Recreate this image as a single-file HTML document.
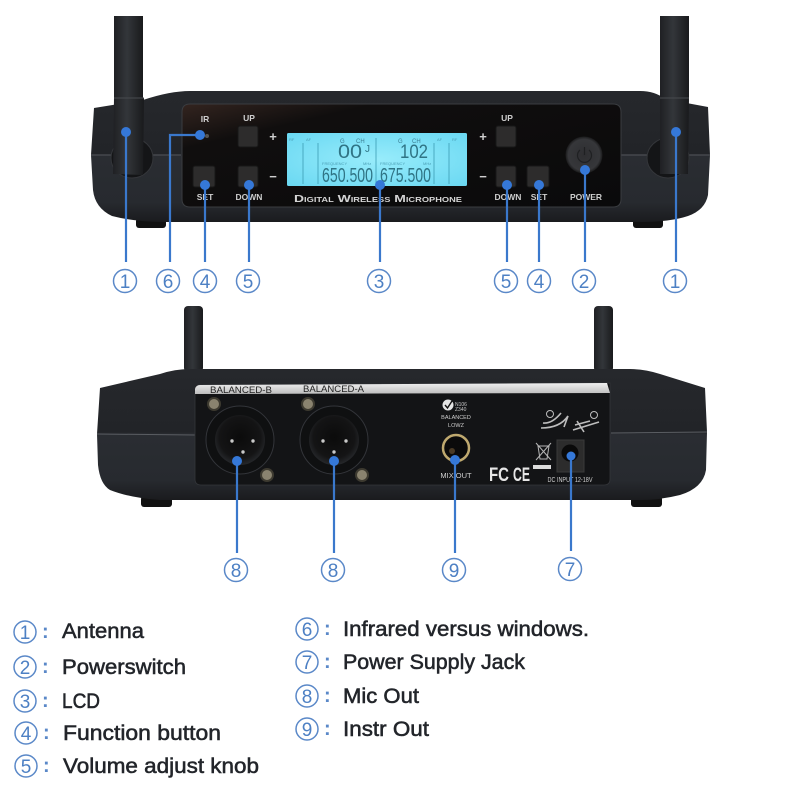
<!DOCTYPE html>
<html><head><meta charset="utf-8"><style>
html,body{margin:0;padding:0;background:#fff;width:800px;height:800px;overflow:hidden}
svg{display:block;filter:blur(.35px)}
text{font-family:"Liberation Sans",sans-serif}
.l{fill:#cfcfcf;font-size:8.500px;font-weight:bold;text-anchor:middle}
.c circle{fill:none;stroke:#5a88c8;stroke-width:1.500}
.c text{fill:#4d80c4;font-size:19px;text-anchor:middle}
.ln{stroke:#3a78cc;stroke-width:2.200;fill:none}
.d{fill:#3578d8}
.t{fill:#22252a;font-size:21.500px;stroke:#22252a;stroke-width:.55}
.col{fill:#5a88c8;font-size:20px;font-weight:bold}
.b{fill:#2d2c2c;stroke:#171717;stroke-width:1}
.seg{fill:#2f7485;font-size:20px}
.segt{fill:#2f7485;font-size:19px}
.sm{fill:#4b9fb5;font-size:4px}
.w{fill:#cfcfcf;font-size:7.500px;text-anchor:middle}
</style></head><body>
<svg width="800" height="800" viewBox="0 0 800 800" xmlns="http://www.w3.org/2000/svg">
<defs>
<linearGradient id="body" x1="0" y1="0" x2="0" y2="1"><stop offset="0" stop-color="#26282c"/><stop offset=".48" stop-color="#222428"/><stop offset=".5" stop-color="#2a2d32"/><stop offset=".85" stop-color="#272a2f"/><stop offset="1" stop-color="#1a1b1e"/></linearGradient>
<linearGradient id="panel" x1="0" y1="0" x2="1" y2="1"><stop offset="0" stop-color="#33241f"/><stop offset=".22" stop-color="#100e0e"/><stop offset="1" stop-color="#0a0a0b"/></linearGradient>
<linearGradient id="ant" x1="0" y1="0" x2="1" y2="0"><stop offset="0" stop-color="#1f2023"/><stop offset=".45" stop-color="#33363a"/><stop offset="1" stop-color="#191a1c"/></linearGradient>
<linearGradient id="strip" x1="0" y1="0" x2="0" y2="1"><stop offset="0" stop-color="#f0f0f0"/><stop offset="1" stop-color="#bdbdbd"/></linearGradient>
<radialGradient id="lcd" cx=".5" cy=".5" r=".7"><stop offset="0" stop-color="#98ecfb"/><stop offset="1" stop-color="#6ad8f2"/></radialGradient>
<radialGradient id="xlr" cx=".5" cy=".45" r=".55"><stop offset="0" stop-color="#0b0b0b"/><stop offset=".75" stop-color="#141415"/><stop offset="1" stop-color="#26282b"/></radialGradient>
<radialGradient id="pw" cx=".5" cy=".5" r=".5"><stop offset="0" stop-color="#2e2e31"/><stop offset=".85" stop-color="#36373a"/><stop offset="1" stop-color="#1a1a1b"/></radialGradient>
</defs>

<!-- TOP DEVICE -->
<rect x="136" y="218" width="30" height="10" rx="3" fill="#111"/>
<rect x="633" y="218" width="30" height="10" rx="3" fill="#111"/>
<path d="M94 108 L143 100 Q170 91 190 91 L640 91 Q655 91 665 99 L708 107 L710 155 L708 195 Q705 210 688 216 Q670 222 640 222 L165 222 Q135 222 112 216 Q95 208 93 190 L91 155 Z" fill="url(#body)"/>
<path d="M91 155 L181 155 M621 155 L710 155" stroke="#54575c" stroke-width="1"/>
<path d="M190 104 L613 104 Q621 104 621 112 L621 199 Q621 207 613 207 L190 207 Q182 207 182 199 L182 112 Q182 104 190 104Z" fill="url(#panel)" stroke="#3a3c40" stroke-width="1"/>
<ellipse cx="132" cy="158" rx="21" ry="20" fill="#141517" stroke="#34363a" stroke-width="1"/>
<ellipse cx="668" cy="158" rx="21" ry="20" fill="#141517" stroke="#34363a" stroke-width="1"/>
<path d="M114 16 H143 V98 H114 Z" fill="url(#ant)"/>
<path d="M660 16 H689 V98 H660 Z" fill="url(#ant)"/>
<path d="M114 98 H144 L143 175 L113 174 Z" fill="url(#ant)"/>
<path d="M660 98 H689 L688 174 L660 174 Z" fill="url(#ant)"/>
<path d="M114 98 H144 M660 98 H689" stroke="#484b4f" stroke-width="1"/>

<rect x="238" y="126" width="20" height="21" rx="2" class="b"/>
<rect x="193" y="166" width="22" height="21" rx="2" class="b"/>
<rect x="238" y="166" width="20" height="21" rx="2" class="b"/>
<rect x="496" y="126" width="20" height="21" rx="2" class="b"/>
<rect x="496" y="166" width="20" height="21" rx="2" class="b"/>
<rect x="527" y="166" width="22" height="21" rx="2" class="b"/>
<circle cx="207" cy="136" r="2" fill="#555"/>
<circle cx="584" cy="155" r="18.500" fill="url(#pw)"/>
<path d="M580 150 A7 7 0 1 0 589 150 M584.500 147 V155" fill="none" stroke="#1f2022" stroke-width="1.200"/>

<text class="l" x="205" y="122">IR</text>
<text class="l" x="249" y="121">UP</text>
<text class="l" x="205" y="200">SET</text>
<text class="l" x="249" y="200">DOWN</text>
<text class="l" x="507" y="121">UP</text>
<text class="l" x="508" y="200">DOWN</text>
<text class="l" x="539" y="200">SET</text>
<text class="l" x="586" y="200">POWER</text>
<text class="l" x="273" y="141" style="font-size:13px">+</text>
<text class="l" x="273" y="181" style="font-size:13px">−</text>
<text class="l" x="483" y="141" style="font-size:13px">+</text>
<text class="l" x="483" y="181" style="font-size:13px">−</text>

<rect x="287" y="133" width="180" height="53" rx="1.500" fill="url(#lcd)"/>
<path d="M303 143 V184 M318 143 V184 M376 138 V184 M434 143 V184 M449 143 V184" stroke="#3d9db5" stroke-width=".8"/>
<text class="sm" x="289" y="141">RF</text><text class="sm" x="306" y="141">AF</text>
<text class="sm" x="437" y="141">AF</text><text class="sm" x="452" y="141">RF</text>
<text x="340" y="143" style="font-size:6px;fill:#3b7f93">G</text><text x="356" y="143" style="font-size:6px;fill:#3b7f93">CH</text>
<text x="398" y="143" style="font-size:6px;fill:#3b7f93">G</text><text x="412" y="143" style="font-size:6px;fill:#3b7f93">CH</text>
<text class="segt" x="338" y="158" textLength="24" lengthAdjust="spacingAndGlyphs">00</text>
<text class="segt" x="365" y="152" style="font-size:10px">J</text>
<text class="segt" x="400" y="158" textLength="28" lengthAdjust="spacingAndGlyphs">102</text>
<text class="sm" x="322" y="165">FREQUENCY</text><text class="sm" x="363" y="165">MHz</text>
<text class="sm" x="380" y="165">FREQUENCY</text><text class="sm" x="423" y="165">MHz</text>
<text class="seg" x="322" y="182" textLength="51" lengthAdjust="spacingAndGlyphs">650.500</text>
<text class="seg" x="380" y="182" textLength="51" lengthAdjust="spacingAndGlyphs">675.500</text>
<text x="294" y="202" textLength="168" lengthAdjust="spacingAndGlyphs" style="font-size:10.500px;font-variant:small-caps;fill:#d4d4d4;font-weight:bold">Digital Wireless Microphone</text>

<!-- BOTTOM DEVICE -->
<rect x="184" y="306" width="19" height="66" rx="4" fill="url(#ant)"/>
<rect x="594" y="306" width="19" height="66" rx="4" fill="url(#ant)"/>
<rect x="141" y="496" width="31" height="11" rx="3" fill="#111"/>
<rect x="631" y="496" width="31" height="11" rx="3" fill="#111"/>
<path d="M100 388 L160 374 Q175 369 190 369 L630 369 Q645 369 660 374 L705 388 L707 432 L706 470 Q703 488 680 495 Q660 500 640 500 L160 500 Q130 498 110 490 Q100 484 98 465 L97 434 Z" fill="url(#body)"/>
<path d="M97 434 L195 435 M611 433 L707 432" stroke="#5a5d62" stroke-width="1"/>
<path d="M195 393 L195 479 Q195 485 201 485 L604 485 Q610 485 610 479 L610 383 L199 385 Z" fill="#131416" stroke="#34363a" stroke-width=".8"/>
<path d="M195 394 V389 Q196 385 200 385 L607 383 L610 393 L195 394Z" fill="url(#strip)"/>
<text x="210" y="393" textLength="62" lengthAdjust="spacingAndGlyphs" style="font-size:9px;fill:#222">BALANCED-B</text>
<text x="303" y="392" textLength="61" lengthAdjust="spacingAndGlyphs" style="font-size:9px;fill:#222">BALANCED-A</text>

<circle cx="240" cy="440" r="34" fill="#0f1011" stroke="#33353a"/>
<circle cx="240" cy="440" r="25" fill="url(#xlr)"/>
<circle cx="334" cy="440" r="34" fill="#0f1011" stroke="#33353a"/>
<circle cx="334" cy="440" r="25" fill="url(#xlr)"/>
<g fill="#c9c9c9">
<circle cx="232" cy="441" r="1.700"/><circle cx="253" cy="441" r="1.700"/><circle cx="243" cy="452" r="1.700"/>
<circle cx="323" cy="441" r="1.700"/><circle cx="346" cy="441" r="1.700"/><circle cx="334" cy="452" r="1.700"/>
</g>
<g fill="#8a836f" stroke="#3d3a30" stroke-width="2">
<circle cx="214" cy="404" r="6"/><circle cx="267" cy="475" r="6"/><circle cx="308" cy="404" r="6"/><circle cx="362" cy="475" r="6"/>
</g>

<circle cx="448" cy="405" r="5.500" fill="#e4e4e4"/>
<path d="M445 405 L447.500 408 L452 401" stroke="#111" stroke-width="1.400" fill="none"/>
<text x="455" y="406" style="font-size:5px;fill:#c8c8c8">N106</text>
<text x="455" y="411" style="font-size:5px;fill:#c8c8c8">Z340</text>
<text class="w" x="456" y="419" style="font-size:5.500px">BALANCED</text>
<text class="w" x="456" y="427" style="font-size:5.500px">LOWZ</text>
<circle cx="456" cy="448" r="13" fill="#0b0b0b" stroke="#bfa96f" stroke-width="2.500"/>
<circle cx="452" cy="451" r="3" fill="#4a3a25"/>
<text class="w" x="456" y="478" style="font-size:7.500px">MIX OUT</text>
<text x="489" y="481" style="font-size:19px;font-weight:bold;fill:#e6e6e6" textLength="20" lengthAdjust="spacingAndGlyphs">FC</text>
<text x="513" y="481" style="font-size:19px;font-weight:bold;fill:#e6e6e6" textLength="17" lengthAdjust="spacingAndGlyphs">CE</text>
<path d="M536 443 L551 460 M551 443 L536 460 M538 446 H549 L547 459 H540 Z" stroke="#b5b5b5" stroke-width="1" fill="none"/>
<rect x="533" y="465" width="18" height="4" fill="#dcdcdc"/>
<rect x="557" y="440" width="27" height="32" fill="#2c2c2c" stroke="#3a3a3a"/>
<circle cx="570" cy="453" r="8.500" fill="#0a0a0a"/>
<text class="w" x="570" y="482" textLength="45" lengthAdjust="spacingAndGlyphs" style="font-size:7px">DC INPUT 12-18V</text>
<path d="M541 428 Q560 428 568 416 L564 427 M543 423 Q552 424 561 413" stroke="#bdbdbd" fill="none" stroke-width="1.600"/>
<path d="M573 430 L599 422 M575 425 L590 421 M577 421 L584 432" stroke="#bdbdbd" fill="none" stroke-width="1.600"/>
<circle cx="550" cy="414" r="3.500" fill="none" stroke="#bdbdbd"/>
<circle cx="594" cy="415" r="3.500" fill="none" stroke="#bdbdbd"/>

<!-- CONNECTORS -->
<g class="ln">
<path d="M126 132 V262"/><path d="M200 135 H170 V262"/><path d="M205 185 V262"/><path d="M249 185 V262"/><path d="M380 185 V262"/>
<path d="M507 185 V262"/><path d="M539 185 V262"/><path d="M585 170 V262"/><path d="M676 132 V262"/>
<path d="M237 461 V553"/><path d="M334 461 V553"/><path d="M455 460 V553"/><path d="M571 456 V551"/>
</g>
<g class="d">
<circle cx="126" cy="132" r="5"/><circle cx="200" cy="135" r="5"/><circle cx="205" cy="185" r="5"/><circle cx="249" cy="185" r="5"/><circle cx="380" cy="185" r="5"/>
<circle cx="507" cy="185" r="5"/><circle cx="539" cy="185" r="5"/><circle cx="585" cy="170" r="5"/><circle cx="676" cy="132" r="5"/>
<circle cx="237" cy="461" r="5"/><circle cx="334" cy="461" r="5"/><circle cx="455" cy="460" r="5"/><circle cx="571" cy="456" r="4.500"/>
</g>

<!-- CALLOUT CIRCLES -->
<g class="c">
<circle cx="125" cy="281" r="11.500"/><text x="125" y="288">1</text>
<circle cx="168" cy="281" r="11.500"/><text x="168" y="288">6</text>
<circle cx="205" cy="281" r="11.500"/><text x="205" y="288">4</text>
<circle cx="248" cy="281" r="11.500"/><text x="248" y="288">5</text>
<circle cx="379" cy="281" r="11.500"/><text x="379" y="288">3</text>
<circle cx="506" cy="281" r="11.500"/><text x="506" y="288">5</text>
<circle cx="539" cy="281" r="11.500"/><text x="539" y="288">4</text>
<circle cx="584" cy="281" r="11.500"/><text x="584" y="288">2</text>
<circle cx="675" cy="281" r="11.500"/><text x="675" y="288">1</text>
<circle cx="236" cy="570" r="11.500"/><text x="236" y="577">8</text>
<circle cx="333" cy="570" r="11.500"/><text x="333" y="577">8</text>
<circle cx="454" cy="570" r="11.500"/><text x="454" y="577">9</text>
<circle cx="570" cy="569" r="11.500"/><text x="570" y="576">7</text>

<circle cx="25" cy="632" r="11"/><text x="25" y="639">1</text>
<circle cx="25" cy="667" r="11"/><text x="25" y="674">2</text>
<circle cx="25" cy="701" r="11"/><text x="25" y="708">3</text>
<circle cx="26" cy="733" r="11"/><text x="26" y="740">4</text>
<circle cx="26" cy="766" r="11"/><text x="26" y="773">5</text>
<circle cx="307" cy="629" r="11"/><text x="307" y="636">6</text>
<circle cx="307" cy="662" r="11"/><text x="307" y="669">7</text>
<circle cx="307" cy="696" r="11"/><text x="307" y="703">8</text>
<circle cx="307" cy="729" r="11"/><text x="307" y="736">9</text>
</g>
<g class="col">
<text x="42" y="638">:</text><text x="42" y="673">:</text><text x="42" y="707">:</text><text x="43" y="739">:</text><text x="43" y="772">:</text>
<text x="324" y="635">:</text><text x="324" y="668">:</text><text x="324" y="702">:</text><text x="324" y="735">:</text>
</g>

<!-- LEGEND -->
<text class="t" x="62" y="638" textLength="82" lengthAdjust="spacingAndGlyphs">Antenna</text>
<text class="t" x="62" y="674" textLength="124" lengthAdjust="spacingAndGlyphs">Powerswitch</text>
<text class="t" x="62" y="708" textLength="38" lengthAdjust="spacingAndGlyphs">LCD</text>
<text class="t" x="63" y="740" textLength="158" lengthAdjust="spacingAndGlyphs">Function button</text>
<text class="t" x="63" y="773" textLength="196" lengthAdjust="spacingAndGlyphs">Volume adjust knob</text>
<text class="t" x="343" y="636" textLength="246" lengthAdjust="spacingAndGlyphs">Infrared versus windows.</text>
<text class="t" x="343" y="669" textLength="182" lengthAdjust="spacingAndGlyphs">Power Supply Jack</text>
<text class="t" x="343" y="703" textLength="76" lengthAdjust="spacingAndGlyphs">Mic Out</text>
<text class="t" x="343" y="736" textLength="86" lengthAdjust="spacingAndGlyphs">Instr Out</text>
</svg>
</body></html>
